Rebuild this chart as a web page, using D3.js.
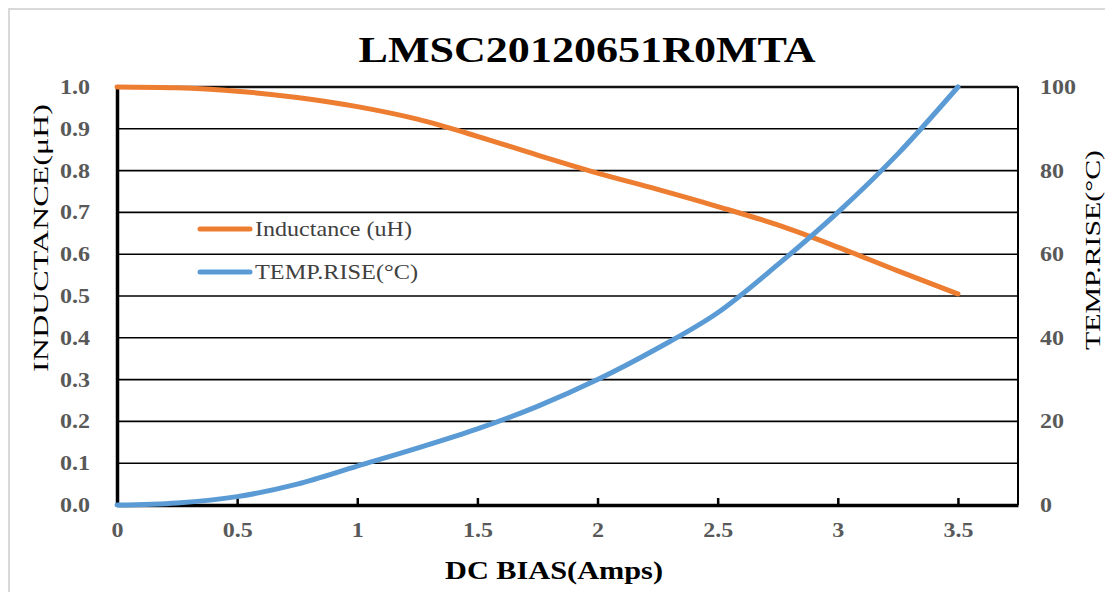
<!DOCTYPE html>
<html><head><meta charset="utf-8">
<script src="https://cdn.jsdelivr.net/npm/d3@7/dist/d3.min.js"></script>
<style>html,body{margin:0;padding:0;background:#fff;}svg{display:block;}</style>
</head><body>
<script>
const titleText = "LMSC20120651R0MTA";
const current = [0, 0.25, 0.5, 0.75, 1.0, 1.25, 1.5, 1.75, 2.0, 2.25, 2.5, 2.75, 3.0, 3.25, 3.5];
const inductance = [1.0, 0.998, 0.99, 0.975, 0.953, 0.923, 0.882, 0.837, 0.794, 0.755, 0.714, 0.670, 0.617, 0.560, 0.505];
const tempRise = [0, 0.5, 2, 5, 9.3, 13.6, 18.2, 23.6, 30, 37.5, 46, 57.5, 70, 84, 100];
const xTicks = [0, 0.5, 1, 1.5, 2, 2.5, 3, 3.5];
const yLeftTicks = [0, 0.1, 0.2, 0.3, 0.4, 0.5, 0.6, 0.7, 0.8, 0.9, 1.0];
const yRightTicks = [0, 20, 40, 60, 80, 100];
const seriesNames = ["Inductance (uH)", "TEMP.RISE(°C)"];

const W = 1105, H = 592;
const L = 117, R = 1018, T = 87, B = 505;
const svg = d3.select("body").append("svg").attr("width", W).attr("height", H);
const serif = "'Liberation Serif','Times New Roman',serif";

function stretch(sel, k) {
  sel.each(function () {
    const w = this.getComputedTextLength();
    d3.select(this).attr("textLength", w * k).attr("lengthAdjust", "spacingAndGlyphs");
  });
}

// frame
svg.append("rect").attr("x", 9).attr("y", 9).attr("width", W + 20).attr("height", H + 20)
  .attr("fill", "none").attr("stroke", "#d9d9d9").attr("stroke-width", 2);

const x = d3.scaleLinear().domain([0, 3.75]).range([L, R]);
const yL = d3.scaleLinear().domain([0, 1]).range([B, T]);
const yR = d3.scaleLinear().domain([0, 100]).range([B, T]);

// gridlines
svg.append("g").selectAll("line").data(yLeftTicks).join("line")
  .attr("x1", L).attr("x2", R).attr("y1", d => yL(d)).attr("y2", d => yL(d))
  .attr("stroke", "#000").attr("stroke-width", 1.6);
svg.append("line").attr("x1", L).attr("x2", R).attr("y1", T).attr("y2", T).attr("stroke", "#111").attr("stroke-width", 2.5);
svg.append("line").attr("x1", R).attr("x2", R).attr("y1", T).attr("y2", B).attr("stroke", "#000").attr("stroke-width", 2);

// bottom axis
const xAxis = svg.append("g").attr("transform", `translate(0,${B})`)
  .call(d3.axisBottom(x).tickValues(xTicks).tickSizeInner(-7).tickSizeOuter(0).tickFormat(d => String(d)));
xAxis.select(".domain").attr("stroke", "#000").attr("stroke-width", 3.5);
xAxis.selectAll(".tick line").attr("stroke", "#000").attr("stroke-width", 2.5);
xAxis.selectAll("text").attr("y", 18).attr("dy", "0.71em").attr("fill", "#595959")
  .attr("font-family", serif).attr("font-weight", "bold").attr("font-size", 20);
stretch(xAxis.selectAll("text"), 1.2);

// left axis
const yAxisL = svg.append("g").attr("transform", `translate(${L},0)`)
  .call(d3.axisLeft(yL).tickValues(yLeftTicks).tickSize(0).tickPadding(27).tickFormat(d3.format(".1f")));
yAxisL.select(".domain").attr("stroke", "#000").attr("stroke-width", 3.5);
yAxisL.selectAll("text").attr("fill", "#595959").attr("font-family", serif)
  .attr("font-weight", "bold").attr("font-size", 20);
stretch(yAxisL.selectAll("text"), 1.2);

// right axis
const yAxisR = svg.append("g").attr("transform", `translate(${R},0)`)
  .call(d3.axisRight(yR).tickValues(yRightTicks).tickSize(0).tickPadding(22).tickFormat(d => String(d)));
yAxisR.select(".domain").remove();
yAxisR.selectAll("text").attr("fill", "#595959").attr("font-family", serif)
  .attr("font-weight", "bold").attr("font-size", 20);
stretch(yAxisR.selectAll("text"), 1.2);

// lines
const indData = current.map((c, i) => [c, inductance[i]]);
const tmpData = current.map((c, i) => [c, tempRise[i]]);
svg.append("path").datum(indData)
  .attr("d", d3.line().x(d => x(d[0])).y(d => yL(d[1])).curve(d3.curveMonotoneX))
  .attr("fill", "none").attr("stroke", "#ED7D31").attr("stroke-width", 5).attr("stroke-linecap", "round");
svg.append("path").datum(tmpData)
  .attr("d", d3.line().x(d => x(d[0])).y(d => yR(d[1])).curve(d3.curveMonotoneX))
  .attr("fill", "none").attr("stroke", "#5B9BD5").attr("stroke-width", 5).attr("stroke-linecap", "round");

// legend
const legendColors = ["#ED7D31", "#5B9BD5"];
const legendLen = [157, 163];
const leg = svg.append("g");
seriesNames.forEach((n, i) => {
  const yy = 229 + i * 43;
  leg.append("line").attr("x1", 200).attr("x2", 250).attr("y1", yy).attr("y2", yy)
    .attr("stroke", legendColors[i]).attr("stroke-width", 5).attr("stroke-linecap", "round");
  leg.append("text").attr("x", 255).attr("y", yy).attr("dy", "0.35em")
    .attr("font-family", serif).attr("font-size", 21).attr("fill", "#404040")
    .attr("textLength", legendLen[i]).attr("lengthAdjust", "spacingAndGlyphs").text(n);
});

// title
svg.append("text").attr("x", 587).attr("y", 62).attr("text-anchor", "middle")
  .attr("font-family", serif).attr("font-weight", "bold").attr("font-size", 35)
  .attr("textLength", 457).attr("lengthAdjust", "spacingAndGlyphs").attr("fill", "#000").text(titleText);

// axis titles
svg.append("text").attr("x", 554).attr("y", 570).attr("dy", "0.35em").attr("text-anchor", "middle")
  .attr("font-family", serif).attr("font-weight", "bold").attr("font-size", 25).attr("fill", "#000")
  .attr("textLength", 218).attr("lengthAdjust", "spacingAndGlyphs")
  .text("DC BIAS(Amps)");
svg.append("text").attr("transform", "translate(40,238) rotate(-90)").attr("dy", "0.35em")
  .attr("text-anchor", "middle").attr("font-family", serif).attr("font-size", 22).attr("fill", "#000")
  .attr("textLength", 268).attr("lengthAdjust", "spacingAndGlyphs")
  .text("INDUCTANCE(μH)");
svg.append("text").attr("transform", "translate(1092,250) rotate(-90)").attr("dy", "0.35em")
  .attr("text-anchor", "middle").attr("font-family", serif).attr("font-size", 22).attr("fill", "#000")
  .attr("textLength", 200).attr("lengthAdjust", "spacingAndGlyphs")
  .text("TEMP.RISE(°C)");
</script>
</body></html>
